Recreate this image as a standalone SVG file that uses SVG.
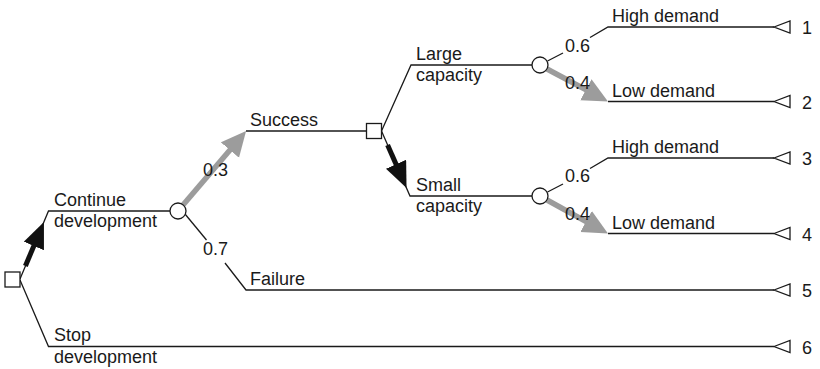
<svg xmlns="http://www.w3.org/2000/svg" width="820" height="369" viewBox="0 0 820 369">
<style>
text{font-family:"Liberation Sans",Arial,sans-serif;font-size:18px;fill:#1a1a1a}
.ln{fill:none;stroke:#1a1a1a;stroke-width:1.3}
.dec{fill:#fff;stroke:#1a1a1a;stroke-width:1.3}
.term{fill:#fff;stroke:#1a1a1a;stroke-width:1.3}
.ga{stroke:#9c9c9c;stroke-width:5.5;fill:none;marker-end:url(#gh)}
.ba{stroke:#111;stroke-width:5;fill:none;marker-end:url(#bh)}
</style>
<defs>
<marker id="gh" markerUnits="userSpaceOnUse" markerWidth="26" markerHeight="26" refX="11" refY="12" orient="auto" viewBox="0 0 26 26">
<path d="M0,0 L25,12 L0,24 z" fill="#9c9c9c"/>
</marker>
<marker id="bh" markerUnits="userSpaceOnUse" markerWidth="27" markerHeight="24" refX="12" refY="11" orient="auto" viewBox="0 0 27 24">
<path d="M0,0 L26,11 L0,22 z" fill="#111"/>
</marker>
</defs>

<g id="connectors">
<polyline class="ln" points="20,279 48.5,211 170,211"/>
<polyline class="ln" points="20,280 48.5,346.5 774,346.5"/>
<line class="ln" x1="185" y1="214" x2="206.5" y2="240"/>
<polyline class="ln" points="225,263 246,290 774,290"/>
<line class="ln" x1="246" y1="131" x2="366.5" y2="131"/>
<polyline class="ln" points="381.5,131 411,65 532,65"/>
<polyline class="ln" points="381.5,131 410,196 532,196"/>
<line class="ln" x1="547.5" y1="61" x2="563" y2="53"/>
<polyline class="ln" points="590,37.5 608,27 774,27"/>
<line class="ln" x1="608" y1="101.5" x2="774" y2="101.5"/>
<line class="ln" x1="547.5" y1="192" x2="563" y2="184"/>
<polyline class="ln" points="590,168.5 608,158 774,158"/>
<line class="ln" x1="608" y1="233.5" x2="774" y2="233.5"/>
<line class="ba" x1="25.4" y1="266" x2="38.5" y2="234.9"/>
<line class="ba" x1="387.6" y1="145" x2="400.9" y2="175.2"/>
<line class="ga" x1="183" y1="205" x2="237" y2="141.7"/>
<line class="ga" x1="547" y1="69" x2="595.6" y2="94.9"/>
<line class="ga" x1="547" y1="200" x2="595.7" y2="226.8"/>
</g>

<g id="labels">
<text x="54" y="206">Continue</text>
<text x="54" y="227">development</text>
<text x="54" y="341">Stop</text>
<text x="54" y="362.5">development</text>
<text x="203" y="176">0.3</text>
<text x="203" y="255">0.7</text>
<text x="250" y="126">Success</text>
<text x="250" y="285">Failure</text>
<text x="416" y="60">Large</text>
<text x="416" y="81">capacity</text>
<text x="416" y="191">Small</text>
<text x="416" y="212">capacity</text>
<text x="565" y="51.5">0.6</text>
<text x="565" y="88.5">0.4</text>
<text x="565" y="182">0.6</text>
<text x="565" y="220">0.4</text>
<text x="612" y="22">High demand</text>
<text x="612" y="96.5">Low demand</text>
<text x="612" y="153">High demand</text>
<text x="612" y="228.5">Low demand</text>
</g>

<g id="decision-start"><rect class="dec" x="5" y="272" width="15" height="15"/></g>
<g id="decision-capacity"><rect class="dec" x="366.5" y="123.5" width="15" height="15"/></g>
<g id="chance-development"><circle class="dec" cx="178" cy="211" r="8"/></g>
<g id="chance-large"><circle class="dec" cx="540" cy="65" r="8"/></g>
<g id="chance-small"><circle class="dec" cx="540" cy="196" r="8"/></g>

<g id="end-1"><path class="term" d="M774,27 L790,21 L790,33 z"/><text x="802" y="34">1</text></g>
<g id="end-2"><path class="term" d="M774,101.5 L790,95.5 L790,107.5 z"/><text x="802" y="108.5">2</text></g>
<g id="end-3"><path class="term" d="M774,158 L790,152 L790,164 z"/><text x="802" y="165">3</text></g>
<g id="end-4"><path class="term" d="M774,233.5 L790,227.5 L790,239.5 z"/><text x="802" y="240.5">4</text></g>
<g id="end-5"><path class="term" d="M774,290 L790,284 L790,296 z"/><text x="802" y="297">5</text></g>
<g id="end-6"><path class="term" d="M774,346.5 L790,340.5 L790,352.5 z"/><text x="802" y="353.5">6</text></g>
</svg>
